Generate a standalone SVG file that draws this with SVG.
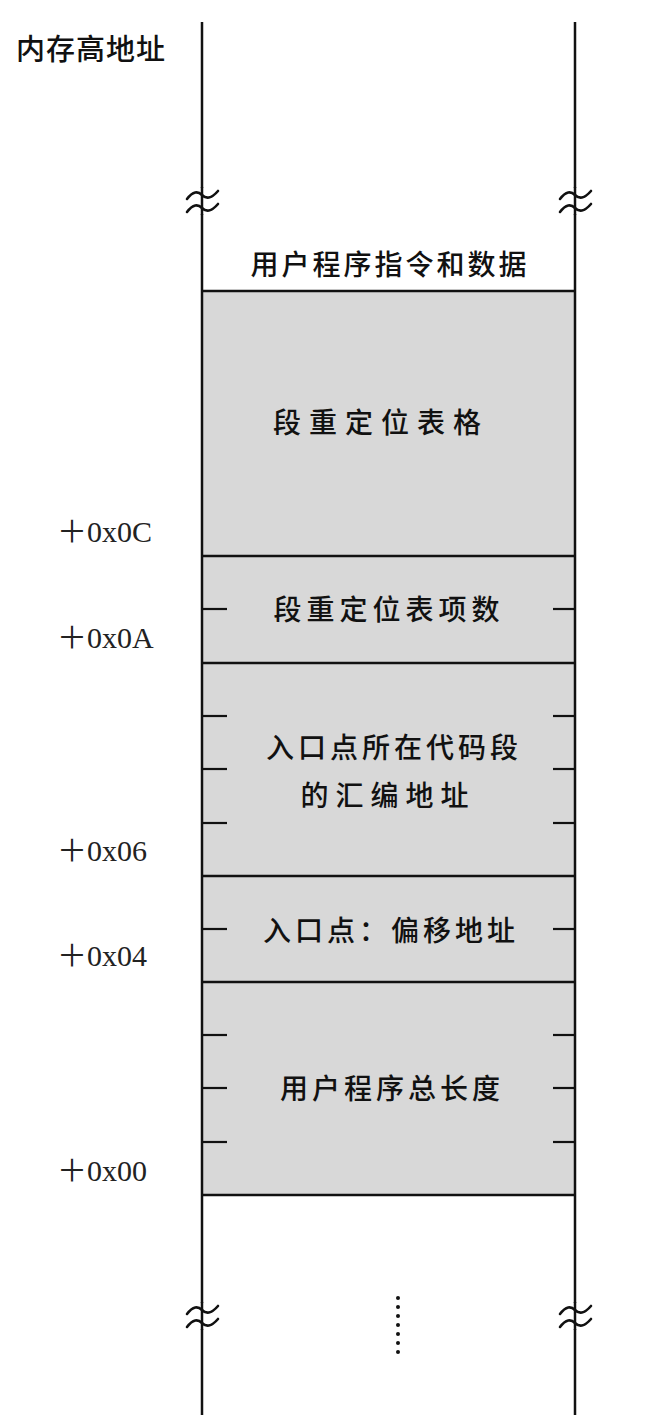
<svg xmlns="http://www.w3.org/2000/svg" width="648" height="1420" viewBox="0 0 648 1420">
  <style>
    .rail { stroke: #111; stroke-width: 2.5; fill: none; }
    .sep { stroke: #111; stroke-width: 2.5; }
    .tick { stroke: #111; stroke-width: 2.2; }
    .brk { stroke: #111; stroke-width: 2.6; fill: none; stroke-linecap: round; }
    .cn { font-family: "Noto Sans CJK SC", sans-serif; font-size: 28px; font-weight: 500; fill: #111; text-anchor: middle; letter-spacing: 4px; }
    .hi { font-family: "Noto Sans CJK SC", sans-serif; font-size: 29px; font-weight: 500; fill: #111; letter-spacing: 1px; }
    .off { font-family: "Liberation Serif", "Noto Sans CJK SC", serif; font-size: 30px; fill: #222; }
  </style>
  <defs>
    <!-- one wavy stroke of the break mark -->
    <path id="wave" d="M -15,4 C -9,-4 -4,-4 0,0 C 4,4 9,4 16,-4" class="brk"/>
    <g id="breakmark">
      <rect x="-17" y="-13" width="34" height="26" fill="#fff"/>
      <line x1="0" y1="-14" x2="0" y2="14" class="rail"/>
      <use href="#wave" y="-6"/>
      <use href="#wave" y="7"/>
    </g>
  </defs>

  <rect width="648" height="1420" fill="#fff"/>

  <!-- memory column fill -->
  <rect x="202" y="291" width="373" height="904" fill="#d8d8d8"/>

  <!-- side rails -->
  <g id="rails">
    <line x1="202" y1="22" x2="202" y2="1415" class="rail"/>
    <line x1="575" y1="22" x2="575" y2="1415" class="rail"/>
  </g>

  <!-- break marks on the rails -->
  <g id="breaks">
    <use href="#breakmark" x="202" y="201"/>
    <use href="#breakmark" x="575" y="201"/>
    <use href="#breakmark" x="202" y="1316"/>
    <use href="#breakmark" x="575" y="1316"/>
  </g>

  <!-- field boundaries -->
  <g id="separators">
    <line x1="202" y1="291" x2="575" y2="291" class="sep"/>
    <line x1="202" y1="556" x2="575" y2="556" class="sep"/>
    <line x1="202" y1="663" x2="575" y2="663" class="sep"/>
    <line x1="202" y1="876" x2="575" y2="876" class="sep"/>
    <line x1="202" y1="982" x2="575" y2="982" class="sep"/>
    <line x1="202" y1="1195" x2="575" y2="1195" class="sep"/>
  </g>

  <!-- byte ticks -->
  <g id="ticks">
    <line x1="202" y1="609" x2="227" y2="609" class="tick"/>
    <line x1="553" y1="609" x2="575" y2="609" class="tick"/>
    <line x1="202" y1="716" x2="227" y2="716" class="tick"/>
    <line x1="553" y1="716" x2="575" y2="716" class="tick"/>
    <line x1="202" y1="769" x2="227" y2="769" class="tick"/>
    <line x1="553" y1="769" x2="575" y2="769" class="tick"/>
    <line x1="202" y1="823" x2="227" y2="823" class="tick"/>
    <line x1="553" y1="823" x2="575" y2="823" class="tick"/>
    <line x1="202" y1="929" x2="227" y2="929" class="tick"/>
    <line x1="553" y1="929" x2="575" y2="929" class="tick"/>
    <line x1="202" y1="1035" x2="227" y2="1035" class="tick"/>
    <line x1="553" y1="1035" x2="575" y2="1035" class="tick"/>
    <line x1="202" y1="1088" x2="227" y2="1088" class="tick"/>
    <line x1="553" y1="1088" x2="575" y2="1088" class="tick"/>
    <line x1="202" y1="1142" x2="227" y2="1142" class="tick"/>
    <line x1="553" y1="1142" x2="575" y2="1142" class="tick"/>
  </g>

  <text class="hi" x="16" y="60">内存高地址</text>

  <g id="user-data"><text class="cn" x="390" y="275" style="letter-spacing:3px">用户程序指令和数据</text></g>
  <g id="reloc-table"><text class="cn" x="381" y="433" style="letter-spacing:8px">段重定位表格</text></g>
  <g id="reloc-count"><text class="cn" x="389" y="620" style="letter-spacing:5px">段重定位表项数</text></g>
  <g id="entry-seg">
    <text class="cn" x="394" y="758">入口点所在代码段</text>
    <text class="cn" x="388" y="806" style="letter-spacing:7px">的汇编地址</text>
  </g>
  <g id="entry-off"><text class="cn" x="391" y="941">入口点：偏移地址</text></g>
  <g id="total-len"><text class="cn" x="392" y="1099">用户程序总长度</text></g>

  <!-- offsets -->
  <g id="offsets">
    <text class="off" x="57" y="542">＋0x0C</text>
    <text class="off" x="57" y="648">＋0x0A</text>
    <text class="off" x="57" y="861">＋0x06</text>
    <text class="off" x="57" y="966">＋0x04</text>
    <text class="off" x="57" y="1181">＋0x00</text>
  </g>

  <!-- continuation dots -->
  <g id="ellipsis" fill="#111">
    <circle cx="398" cy="1298" r="2"/>
    <circle cx="398" cy="1307" r="2"/>
    <circle cx="398" cy="1316" r="2"/>
    <circle cx="398" cy="1325" r="2"/>
    <circle cx="398" cy="1334" r="2"/>
    <circle cx="398" cy="1343" r="2"/>
    <circle cx="398" cy="1352" r="2"/>
  </g>
</svg>
